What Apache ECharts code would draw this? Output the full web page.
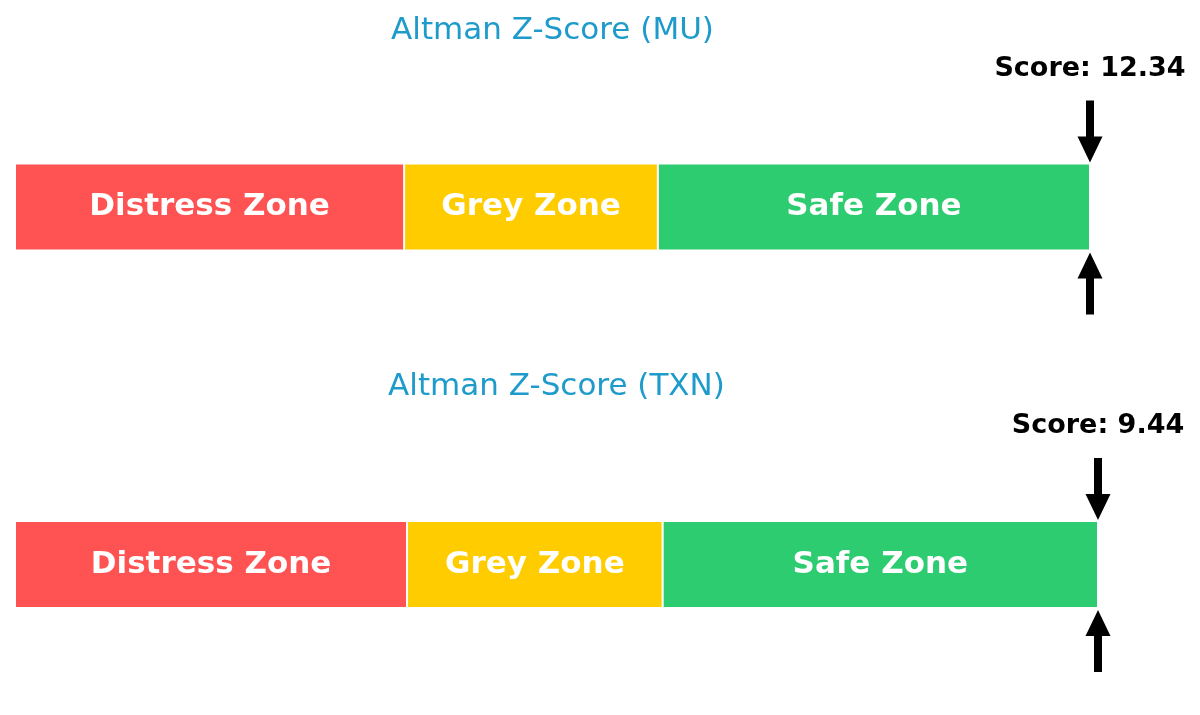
<!DOCTYPE html>
<html>
<head>
<meta charset="utf-8">
<script src="https://cdn.jsdelivr.net/npm/echarts@6/dist/echarts.min.js"></script>
<style>html,body{margin:0;padding:0;background:#fff}#c{width:1200px;height:715px}</style>
</head>
<body>
<div id="c"></div>
<script>
const companies = ['MU', 'TXN'];
const scores = [12.34, 9.44];
const zoneNames = ['Distress Zone', 'Grey Zone', 'Safe Zone'];
const zoneUpper = [1.81, 2.99, 5.0];
const axisMax = 5.0;

const zoneColors = ['#FF5252', '#FFCC00', '#2ECC71'];
const grids = [
  { left: 15, top: 163.5, width: 1075, height: 87 },
  { left: 15, top: 521, width: 1083, height: 87 }
];
const titleY = [31, 387];

const chart = echarts.init(document.getElementById('c'));
const series = [];
companies.forEach((c, gi) => {
  zoneNames.forEach((z, zi) => {
    const w = zoneUpper[zi] - (zi ? zoneUpper[zi - 1] : 0);
    series.push({
      type: 'bar', name: z + gi, stack: 's' + gi,
      xAxisIndex: gi, yAxisIndex: gi,
      barWidth: '100%',
      data: [w],
      itemStyle: { color: zoneColors[zi], borderColor: '#fff', borderWidth: 1 },
      label: { show: true, position: 'inside', formatter: z, color: '#fff',
        fontFamily: 'DejaVu Sans', fontWeight: 'bold', fontSize: 31 },
      silent: true
    });
  });
  series.push({
    type: 'custom', xAxisIndex: gi, yAxisIndex: gi, clip: false, silent: true,
    data: [[Math.min(scores[gi], axisMax), 0, scores[gi]]],
    renderItem: function (params, api) {
      const p = api.coord([api.value(0), 0]);
      const bh = api.size([0, 1])[1];
      const x = p[0];
      const top = p[1] - bh / 2;
      const bot = p[1] + bh / 2;
      const hw = 12.5, sw = 4, hh = 26, sl = 62;
      return {
        type: 'group',
        children: [
          { type: 'polygon', shape: { points: [
            [x, top - 1], [x - hw, top - 1 - hh], [x - sw, top - 1 - hh], [x - sw, top - 1 - sl],
            [x + sw, top - 1 - sl], [x + sw, top - 1 - hh], [x + hw, top - 1 - hh]] },
            style: { fill: '#000' } },
          { type: 'polygon', shape: { points: [
            [x, bot + 2], [x - hw, bot + 2 + hh], [x - sw, bot + 2 + hh], [x - sw, bot + 2 + sl],
            [x + sw, bot + 2 + sl], [x + sw, bot + 2 + hh], [x + hw, bot + 2 + hh]] },
            style: { fill: '#000' } },
          { type: 'text', style: { text: 'Score: ' + api.value(2).toFixed(2), x: x, y: top - 95,
            align: 'center', verticalAlign: 'middle', fill: '#000',
            fontFamily: 'DejaVu Sans', fontWeight: 'bold', fontSize: 27 } }
        ]
      };
    }
  });
});

chart.setOption({
  animation: false,
  title: companies.map((c, gi) => ({
    text: 'Altman Z-Score (' + c + ')',
    left: grids[gi].left + grids[gi].width / 2,
    top: titleY[gi],
    textAlign: 'center', textVerticalAlign: 'middle', padding: 0,
    textStyle: { color: '#1E9BCB', fontFamily: 'DejaVu Sans', fontWeight: 'normal', fontSize: 31 }
  })),
  grid: grids,
  xAxis: grids.map((g, gi) => ({ type: 'value', gridIndex: gi, min: 0, max: axisMax, show: false })),
  yAxis: grids.map((g, gi) => ({ type: 'category', gridIndex: gi, data: ['Z'], show: false })),
  series: series
});
</script>
</body>
</html>
